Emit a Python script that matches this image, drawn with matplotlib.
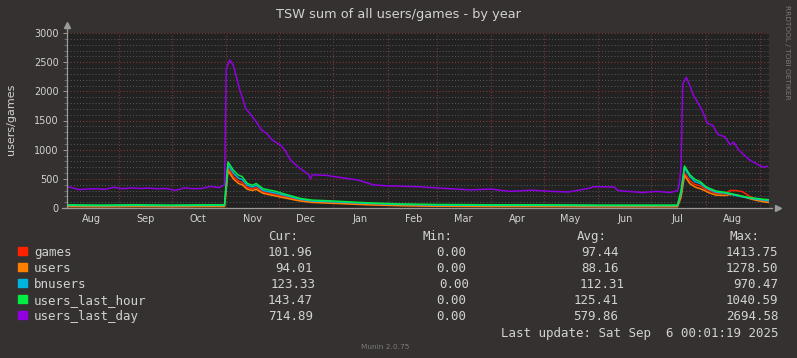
import matplotlib
matplotlib.use("Agg")
import matplotlib.pyplot as plt
import matplotlib.dates as mdates
from matplotlib.ticker import MultipleLocator, NullFormatter
import numpy as np

# users_last_day (daily samples)
day_dates = [
    "2024-08-02", "2024-08-05", "2024-08-09", "2024-08-14", "2024-08-19", "2024-08-24", "2024-08-29",
    "2024-09-03", "2024-09-08", "2024-09-13", "2024-09-18", "2024-09-23", "2024-09-28",
    "2024-10-03", "2024-10-08", "2024-10-13", "2024-10-18", "2024-10-23", "2024-10-28", "2024-10-31",
    "2024-11-01", "2024-11-03", "2024-11-05", "2024-11-07", "2024-11-09", "2024-11-10", "2024-11-12",
    "2024-11-15", "2024-11-18", "2024-11-21", "2024-11-24", "2024-11-27", "2024-11-30", "2024-12-02",
    "2024-12-05", "2024-12-07", "2024-12-09", "2024-12-13", "2024-12-18", "2024-12-19", "2024-12-20",
    "2024-12-28", "2025-01-01", "2025-01-08", "2025-01-15", "2025-01-24", "2025-02-01", "2025-02-18",
    "2025-03-03", "2025-03-20", "2025-04-01", "2025-04-11", "2025-04-24", "2025-05-05", "2025-05-15",
    "2025-05-27", "2025-05-29", "2025-06-10", "2025-06-12", "2025-06-26", "2025-07-04", "2025-07-12",
    "2025-07-16", "2025-07-17", "2025-07-18", "2025-07-19", "2025-07-21", "2025-07-23", "2025-07-25",
    "2025-07-30", "2025-08-02", "2025-08-05", "2025-08-08", "2025-08-12", "2025-08-15", "2025-08-17",
    "2025-08-20", "2025-08-25", "2025-08-28", "2025-08-31", "2025-09-03", "2025-09-05",
]
users_last_day = [
    370, 350, 315, 325, 330, 320, 355,
    330, 345, 335, 340, 330, 335,
    300, 345, 330, 335, 370, 350, 400,
    2380, 2540, 2450, 2220, 1990, 1910, 1710,
    1600, 1480, 1340, 1280, 1170, 1110, 1080,
    965, 850, 780, 680, 570, 500, 570,
    560, 540, 510, 480, 395, 380, 365,
    340, 310, 325, 285, 305, 285, 275,
    340, 365, 360, 300, 265, 285, 265,
    300, 400, 700, 2130, 2240, 2100, 1940,
    1680, 1450, 1420, 1260, 1220, 1080, 1130,
    990, 850, 790, 740, 700, 715,
]

# the four smaller series share these sample dates
dates = [
    "2024-08-02", "2024-08-20", "2024-09-10", "2024-10-01", "2024-10-20", "2024-10-31",
    "2024-11-01", "2024-11-02", "2024-11-05", "2024-11-08", "2024-11-10", "2024-11-13",
    "2024-11-16", "2024-11-18", "2024-11-22", "2024-11-30", "2024-12-03", "2024-12-13",
    "2024-12-20", "2025-01-01", "2025-01-20", "2025-02-08", "2025-03-01", "2025-04-01",
    "2025-05-01", "2025-06-01", "2025-07-01", "2025-07-16", "2025-07-18", "2025-07-20",
    "2025-07-23", "2025-07-26", "2025-07-29", "2025-08-01", "2025-08-03", "2025-08-07",
    "2025-08-12", "2025-08-15", "2025-08-18", "2025-08-22", "2025-08-26", "2025-08-30",
    "2025-09-03", "2025-09-06",
]
games = [30, 28, 32, 28, 30, 30,
         350, 690, 540, 460, 440, 350,
         330, 350, 270, 220, 200, 130,
         105, 90, 65, 45, 35, 30,
         30, 28, 28, 28, 200, 600,
         470, 400, 380, 320, 300, 250,
         245, 300, 300, 280, 200, 150,
         115, 102]
users = [25, 22, 25, 22, 25, 25,
         320, 640, 500, 420, 400, 320,
         300, 320, 250, 200, 180, 120,
         95, 80, 55, 40, 30, 25,
         25, 22, 22, 22, 180, 560,
         420, 360, 330, 290, 260, 220,
         215, 230, 225, 200, 160, 130,
         105, 94]
bnusers = [45, 40, 45, 40, 45, 45,
           400, 740, 600, 510, 490, 390,
           360, 390, 300, 250, 225, 150,
           120, 105, 80, 60, 50, 45,
           45, 40, 40, 40, 250, 690,
           540, 450, 420, 350, 320, 270,
           255, 240, 215, 190, 170, 150,
           135, 123]
users_last_hour = [55, 50, 55, 50, 55, 55,
                   450, 790, 650, 560, 540, 420,
                   390, 420, 330, 280, 250, 165,
                   135, 120, 90, 70, 60, 55,
                   55, 50, 50, 50, 300, 720,
                   570, 490, 450, 370, 340, 290,
                   270, 250, 230, 200, 180, 165,
                   150, 143]

names = ["games", "users", "bnusers", "users_last_hour", "users_last_day"]
colors = ["#ff2200", "#ff7f00", "#00b4e0", "#00ee44", "#9000e0"]
cur = ["101.96", "94.01", "123.33", "143.47", "714.89"]
mins = ["0.00", "0.00", "0.00", "0.00", "0.00"]
avgs = ["97.44", "88.16", "112.31", "125.41", "579.86"]
maxs = ["1413.75", "1278.50", "970.47", "1040.59", "2694.58"]

W, H = 797, 358
BG = "#353130"
TXT = "#d2d2d2"


def fx(x):
    return x / W


def fy(y):
    return 1 - y / H


fig = plt.figure(figsize=(W / 100, H / 100), dpi=100, facecolor=BG)
ax = fig.add_axes([fx(66.5), fy(208), (768.8 - 66.5) / W, 175 / H])
ax.set_facecolor("#222222")

d_day = np.array(day_dates, dtype="datetime64[D]")
d_small = np.array(dates, dtype="datetime64[D]")
series = [games, users, bnusers, users_last_hour]
for vals, c in zip(series, colors[:4]):
    ax.plot(d_small, vals, color=c, lw=1.1, zorder=3)
ax.plot(d_day, users_last_day, color=colors[4], lw=1.1, zorder=4)

ax.set_xlim(np.datetime64("2024-08-02T00:01"), np.datetime64("2025-09-06T00:01"))
ax.set_ylim(0, 3000)

# grid
ax.yaxis.set_major_locator(MultipleLocator(500))
ax.yaxis.set_minor_locator(MultipleLocator(100))
ax.grid(True, which="minor", axis="y", color="#555555", lw=0.75, ls=(0, (1, 2)))
ax.grid(True, which="major", axis="y", color="#8a3434", lw=0.75, ls=(0, (1, 2)))
ax.xaxis.set_major_locator(mdates.MonthLocator(bymonthday=1))
ax.xaxis.set_major_formatter(NullFormatter())
ax.xaxis.set_minor_locator(mdates.MonthLocator(bymonthday=16))
ax.xaxis.set_minor_formatter(mdates.DateFormatter("%b"))
ax.grid(True, which="major", axis="x", color="#8a3434", lw=0.75, ls=(0, (1, 2)))
ax.set_axisbelow(True)

ax.tick_params(axis="x", which="both", length=0, pad=4, labelsize=7, labelcolor=TXT)
ax.tick_params(axis="y", which="major", length=3, width=0.7, color="#9a9a9a",
               pad=2.5, labelsize=7, labelcolor=TXT)
ax.tick_params(axis="y", which="minor", length=2, width=0.6, color="#777777")

for s in ax.spines.values():
    s.set_visible(False)
ax.plot([0, 0], [0, 1.03], transform=ax.transAxes, color="#9a9a9a", lw=0.9, clip_on=False, zorder=5)
ax.plot([-0.006, 1.005], [0, 0], transform=ax.transAxes, color="#9a9a9a", lw=0.9, clip_on=False, zorder=5)
ax.plot([0], [1.045], marker="^", ms=4, color="#9a9a9a", transform=ax.transAxes, clip_on=False)
ax.plot([1.013], [0], marker=">", ms=4, color="#9a9a9a", transform=ax.transAxes, clip_on=False)

# texts
fig.text(fx(398), fy(18.3), "TSW sum of all users/games - by year", ha="center", va="baseline",
         color=TXT, fontsize=9.3)
fig.text(fx(11), fy(119), "users/games", rotation=90, ha="center", va="center", color=TXT, fontsize=8)
fig.text(fx(787.5), fy(5), "RRDTOOL / TOBI OETIKER", rotation=270, ha="center", va="top",
         color="#7a7a7a", fontsize=5.3)

mono = "DejaVu Sans Mono"
fs = 9
fig.text(fx(268), fy(240), "Cur:", family=mono, fontsize=fs, color=TXT, va="baseline")
fig.text(fx(422.7), fy(240), "Min:", family=mono, fontsize=fs, color=TXT, va="baseline")
fig.text(fx(576.7), fy(240), "Avg:", family=mono, fontsize=fs, color=TXT, va="baseline")
fig.text(fx(730), fy(240), "Max:", family=mono, fontsize=fs, color=TXT, va="baseline")

shift = [0, 0, 3, 0, 0]
for i, name in enumerate(names):
    yb = 255.7 + 16 * i
    sq = plt.Rectangle((fx(18.3), fy(yb - 0.7)), 8.3 / W, 8.3 / H, transform=fig.transFigure,
                       color=colors[i], figure=fig)
    fig.patches.append(sq)
    fig.text(fx(34), fy(yb), name, family=mono, fontsize=fs, color=TXT, va="baseline")
    fig.text(fx(313 + shift[i]), fy(yb), cur[i], family=mono, fontsize=fs, color=TXT, va="baseline", ha="right")
    fig.text(fx(466.7 + shift[i]), fy(yb), mins[i], family=mono, fontsize=fs, color=TXT, va="baseline", ha="right")
    fig.text(fx(618.3 + 2 * shift[i]), fy(yb), avgs[i], family=mono, fontsize=fs, color=TXT, va="baseline", ha="right")
    fig.text(fx(778.3), fy(yb), maxs[i], family=mono, fontsize=fs, color=TXT, va="baseline", ha="right")

fig.text(fx(778.3), fy(336.7), "Last update: Sat Sep  6 00:01:19 2025", family=mono, fontsize=fs,
         color=TXT, va="baseline", ha="right")
fig.text(fx(385), fy(349.3), "Munin 2.0.75", fontsize=5.3, color="#7a7a7a", va="baseline", ha="center")

fig.savefig("out.png", dpi=100, facecolor=BG)
